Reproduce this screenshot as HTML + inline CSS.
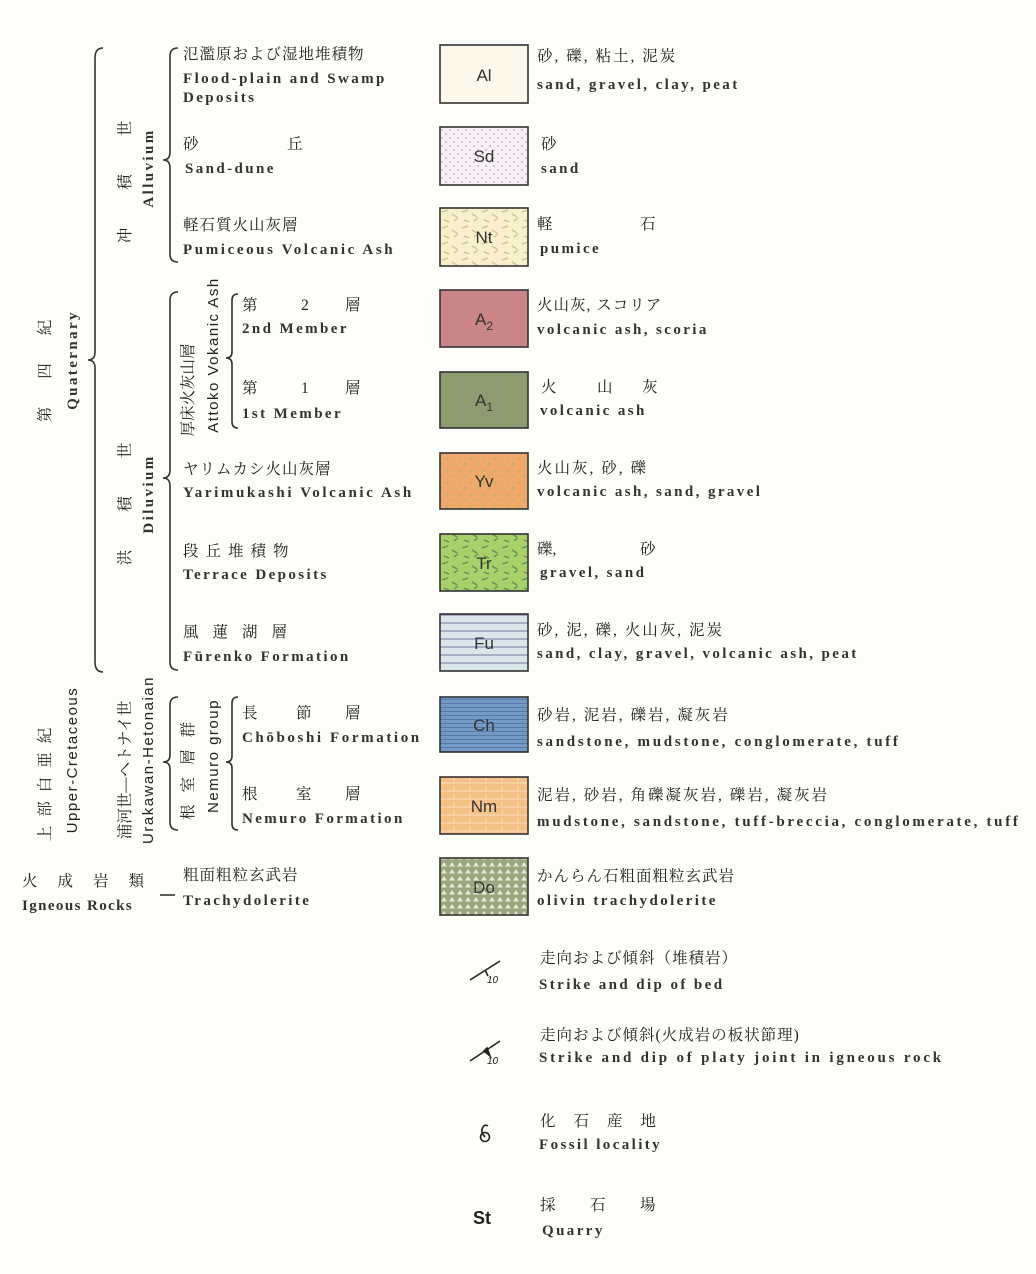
<!DOCTYPE html>
<html><head><meta charset="utf-8">
<style>
html,body{margin:0;padding:0;background:#fdfdf9;}
svg{display:block;font-family:"Liberation Serif","Noto Serif CJK SC","Noto Sans CJK JP",serif;}
text{fill:#222;}
.jp text,text.jp{font-size:15.5px;}
.en text,text.en{font-size:15px;letter-spacing:2.4px;font-weight:bold;fill:#333;}
.vs text{font-family:"Liberation Sans",sans-serif;font-weight:normal;letter-spacing:1.5px;}
.lab text{font-family:"Liberation Sans",sans-serif;font-size:17px;fill:#333;}
</style></head><body>
<svg width="1036" height="1274" viewBox="0 0 1036 1274" xmlns="http://www.w3.org/2000/svg">
<defs>
<pattern id="pSd" width="8" height="8" patternUnits="userSpaceOnUse"><rect width="8" height="8" fill="#f7f1f5"/><circle cx="2" cy="2" r="1" fill="#c9b7c8"/><circle cx="6" cy="6" r="1" fill="#c9b7c8"/></pattern>
<pattern id="pNt" width="20" height="16" patternUnits="userSpaceOnUse"><rect width="20" height="16" fill="#f8efcb"/><path d="M2 4l6 -2M12 6l5 3M4 12l5 2M14 13l4 -3" stroke="#c9c097" stroke-width="1.3"/></pattern>
<pattern id="pYv" width="12" height="12" patternUnits="userSpaceOnUse"><rect width="12" height="12" fill="#efa96a"/><circle cx="3" cy="3" r="1.5" fill="#c8b068"/><circle cx="9" cy="8" r="1.3" fill="#c8b068"/></pattern>
<pattern id="pTr" width="20" height="16" patternUnits="userSpaceOnUse"><rect width="20" height="16" fill="#a9d06b"/><path d="M2 4l6 -2M12 6l5 3M4 12l5 2M14 13l4 -3" stroke="#5f9058" stroke-width="1.4"/></pattern>
<pattern id="pFu" width="10" height="8" patternUnits="userSpaceOnUse"><rect width="10" height="8" fill="#d9e7ea"/><line x1="0" y1="7" x2="10" y2="7" stroke="#8c8fb0" stroke-width="1.3"/></pattern>
<pattern id="pCh" width="10" height="4" patternUnits="userSpaceOnUse"><rect width="10" height="4" fill="#729ac4"/><line x1="0" y1="3.5" x2="10" y2="3.5" stroke="#587aa8" stroke-width="1"/></pattern>
<pattern id="pNm" width="16" height="8" patternUnits="userSpaceOnUse"><rect width="16" height="8" fill="#f5c086"/><line x1="0" y1="7" x2="16" y2="7" stroke="#f8e0c0" stroke-width="1"/><line x1="6" y1="2" x2="6" y2="5" stroke="#fbe8d0" stroke-width="1"/></pattern>
<pattern id="pDo" width="8" height="7" patternUnits="userSpaceOnUse"><rect width="8" height="7" fill="#9aa67e"/><path d="M1 5.5L4 1L7 5.5Z" fill="#e5e9d6"/></pattern>
</defs>

<g fill="none" stroke="#333" stroke-width="1.6">
<path d="M103 48 Q95 48 95 58 L95 352 Q95 360 88 360 Q95 360 95 368 L95 662 Q95 672 103 672"/>
<path d="M178 48 Q170 48 170 56 L170 152 Q170 160 163 160 Q170 160 170 168 L170 254 Q170 262 178 262"/>
<path d="M178 292 Q170 292 170 300 L170 470 Q170 478 163 478 Q170 478 170 486 L170 662 Q170 670 178 670"/>
<path d="M238 294 Q232 294 232 300 L232 352 Q232 358 226 358 Q232 358 232 364 L232 422 Q232 428 238 428"/>
<path d="M178 697 Q170 697 170 705 L170 755 Q170 762 163 762 Q170 762 170 769 L170 822 Q170 830 178 830"/>
<path d="M238 697 Q232 697 232 703 L232 756 Q232 762 226 762 Q232 762 232 768 L232 824 Q232 830 238 830"/>
<line x1="160" y1="895" x2="175" y2="895"/>
</g>

<g class="jp">
<text transform="translate(50,357) rotate(-90)" text-anchor="middle" letter-spacing="28">第四紀</text>
<text transform="translate(130,163) rotate(-90)" text-anchor="middle" letter-spacing="38">冲積世</text>
<text transform="translate(130,485) rotate(-90)" text-anchor="middle" letter-spacing="38">洪積世</text>
<text transform="translate(193,390) rotate(-90)" text-anchor="middle">厚床火灰山層</text>
<text transform="translate(50,780) rotate(-90)" text-anchor="middle" letter-spacing="9">上部白亜紀</text>
<text transform="translate(130,770) rotate(-90)" text-anchor="middle">浦河世—ヘトナイ世</text>
<text transform="translate(193,765) rotate(-90)" text-anchor="middle" letter-spacing="12">根室層群</text>
</g>
<g class="en">
<text transform="translate(77,360) rotate(-90)" text-anchor="middle" font-weight="normal">Quaternary</text>
<text transform="translate(153,168) rotate(-90)" text-anchor="middle">Alluvium</text>
<text transform="translate(153,494) rotate(-90)" text-anchor="middle">Diluvium</text>
</g>
<g class="vs">
<text transform="translate(218,355) rotate(-90)" text-anchor="middle" font-size="15">Attoko Vokanic Ash</text>
<text transform="translate(77,760) rotate(-90)" text-anchor="middle" font-size="15">Upper-Cretaceous</text>
<text transform="translate(153,760) rotate(-90)" text-anchor="middle" font-size="15">Urakawan-Hetonaian</text>
<text transform="translate(218,756) rotate(-90)" text-anchor="middle" font-size="15">Nemuro group</text>
</g>
<text class="jp" x="22" y="886" letter-spacing="20">火成岩類</text>
<text class="en" x="22" y="910" style="letter-spacing:1.4px">Igneous Rocks</text>

<g class="jp">
<text x="183" y="59" letter-spacing="1">氾濫原および湿地堆積物</text>
<text x="183" y="149"><tspan>砂</tspan><tspan x="287">丘</tspan></text>
<text x="183" y="230" letter-spacing="1">軽石質火山灰層</text>
<text x="242" y="310">第<tspan x="301">2</tspan><tspan x="345">層</tspan></text>
<text x="242" y="393">第<tspan x="301">1</tspan><tspan x="345">層</tspan></text>
<text x="183" y="474" letter-spacing="1">ヤリムカシ火山灰層</text>
<text x="183" y="556" letter-spacing="7">段丘堆積物</text>
<text x="183" y="637" letter-spacing="14">風蓮湖層</text>
<text x="242" y="718">長<tspan x="296">節</tspan><tspan x="345">層</tspan></text>
<text x="242" y="799">根<tspan x="296">室</tspan><tspan x="345">層</tspan></text>
<text x="183" y="880" letter-spacing="1">粗面粗粒玄武岩</text>
</g>
<g class="en">
<text x="183" y="83">Flood-plain and Swamp</text>
<text x="183" y="102">Deposits</text>
<text x="185" y="173">Sand-dune</text>
<text x="183" y="254" style="letter-spacing:2.6px">Pumiceous Volcanic Ash</text>
<text x="242" y="333">2nd Member</text>
<text x="242" y="418">1st Member</text>
<text x="183" y="497" style="letter-spacing:2.6px">Yarimukashi Volcanic Ash</text>
<text x="183" y="579">Terrace Deposits</text>
<text x="183" y="661">Fūrenko Formation</text>
<text x="242" y="742" style="letter-spacing:2.6px">Chōboshi Formation</text>
<text x="242" y="823">Nemuro Formation</text>
<text x="183" y="905">Trachydolerite</text>
</g>

<g stroke="#333" stroke-width="1.6">
<rect x="440" y="45" width="88" height="58" fill="#fcf8ec"/>
<rect x="440" y="127" width="88" height="58" fill="url(#pSd)"/>
<rect x="440" y="208" width="88" height="58" fill="url(#pNt)"/>
<rect x="440" y="290" width="88" height="57" fill="#c98587"/>
<rect x="440" y="372" width="88" height="56" fill="#8d9b6f"/>
<rect x="440" y="453" width="88" height="56" fill="url(#pYv)"/>
<rect x="440" y="534" width="88" height="57" fill="url(#pTr)"/>
<rect x="440" y="614" width="88" height="57" fill="url(#pFu)"/>
<rect x="440" y="697" width="88" height="55" fill="url(#pCh)"/>
<rect x="440" y="777" width="88" height="57" fill="url(#pNm)"/>
<rect x="440" y="858" width="88" height="57" fill="url(#pDo)"/>
</g>
<g class="lab" text-anchor="middle">
<text x="484" y="81">Al</text>
<text x="484" y="162">Sd</text>
<text x="484" y="243">Nt</text>
<text x="484" y="325">A<tspan font-size="12" dy="5">2</tspan></text>
<text x="484" y="406">A<tspan font-size="12" dy="5">1</tspan></text>
<text x="484" y="487">Yv</text>
<text x="484" y="569">Tr</text>
<text x="484" y="649">Fu</text>
<text x="484" y="731">Ch</text>
<text x="484" y="812">Nm</text>
<text x="484" y="893">Do</text>
</g>

<g class="jp">
<text x="537" y="61" letter-spacing="2">砂, 礫, 粘土, 泥炭</text>
<text x="541" y="149">砂</text>
<text x="537" y="229">軽<tspan x="640">石</tspan></text>
<text x="537" y="310" letter-spacing="1">火山灰, スコリア</text>
<text x="541" y="392">火<tspan x="597">山</tspan><tspan x="642">灰</tspan></text>
<text x="537" y="473" letter-spacing="2">火山灰, 砂, 礫</text>
<text x="537" y="554">礫,<tspan x="640">砂</tspan></text>
<text x="537" y="635" letter-spacing="2">砂, 泥, 礫, 火山灰, 泥炭</text>
<text x="537" y="720" letter-spacing="2">砂岩, 泥岩, 礫岩, 凝灰岩</text>
<text x="537" y="800" letter-spacing="2">泥岩, 砂岩, 角礫凝灰岩, 礫岩, 凝灰岩</text>
<text x="537" y="881" letter-spacing="1">かんらん石粗面粗粒玄武岩</text>
<text x="540" y="963" letter-spacing="1">走向および傾斜（堆積岩）</text>
<text x="540" y="1040" letter-spacing="1">走向および傾斜(火成岩の板状節理)</text>
<text x="540" y="1126" letter-spacing="18">化石産地</text>
<text x="540" y="1210"><tspan>採</tspan><tspan x="590">石</tspan><tspan x="640">場</tspan></text>
</g>
<g class="en">
<text x="537" y="89">sand, gravel, clay, peat</text>
<text x="541" y="173">sand</text>
<text x="540" y="253">pumice</text>
<text x="537" y="334">volcanic ash, scoria</text>
<text x="540" y="415">volcanic ash</text>
<text x="537" y="496">volcanic ash, sand, gravel</text>
<text x="540" y="577">gravel, sand</text>
<text x="537" y="658">sand, clay, gravel, volcanic ash, peat</text>
<text x="537" y="746" style="letter-spacing:2.7px">sandstone, mudstone, conglomerate, tuff</text>
<text x="537" y="826" style="letter-spacing:2.7px">mudstone, sandstone, tuff-breccia, conglomerate, tuff</text>
<text x="537" y="905">olivin trachydolerite</text>
<text x="539" y="989">Strike and dip of bed</text>
<text x="539" y="1062" style="letter-spacing:2.8px">Strike and dip of platy joint in igneous rock</text>
<text x="539" y="1149">Fossil locality</text>
<text x="542" y="1235">Quarry</text>
</g>

<g stroke="#222" stroke-width="1.6" fill="none">
<line x1="470" y1="980" x2="500" y2="961"/>
<line x1="485" y1="970" x2="488" y2="976"/>
<line x1="470" y1="1061" x2="500" y2="1041"/>
<path d="M484 1051 L490 1056 L487 1048 Z" fill="#222"/>
<circle cx="485" cy="1137" r="4.5"/>
<path d="M485 1137 Q480 1132 483 1127 Q485 1124 488 1126"/>
</g>
<text x="487" y="983" font-size="10" font-style="italic" font-family="Liberation Sans">10</text>
<text x="487" y="1064" font-size="10" font-style="italic" font-family="Liberation Sans">10</text>
<text x="473" y="1224" font-family="Liberation Sans" font-weight="bold" font-size="18" fill="#222">St</text>
</svg>
</body></html>
